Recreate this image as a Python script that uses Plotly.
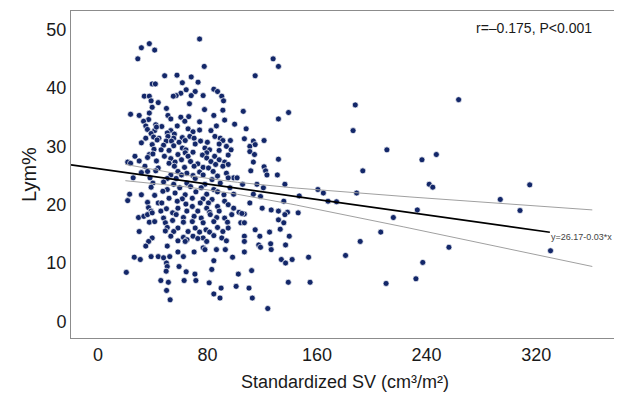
import plotly.graph_objects as go
import numpy as np

# Scatter data (Standardized SV, Lym%)
sv = [74.2,37.5,31.7,41.4,29.1,127.9,131.8,77.6,48.7,57.7,114.8,68.1,61.6,73.1,39.6,41.9,64.4,71.0,84.6,87.3,
      60.5,57.1,55.0,68.1,76.8,90.4,33.8,37.5,38.8,44.0,91.7,66.8,39.6,50.0,77.8,91.2,106.1,139.2,23.8,30.1,
      37.5,51.1,60.5,53.2,66.3,84.6,131.8,37.0,92.5,33.3,63.4,74.2,34.9,42.2,46.6,57.9,86.5,99.8,108.2,36.1,
      41.4,42.7,53.2,65.8,74.2,82.5,38.8,50.6,55.8,69.4,186.3,34.9,40.6,44.5,51.1,55.3,61.6,67.1,85.4,89.3,
      106.9,121.3,113.5,31.7,43.2,49.8,53.7,59.2,63.7,70.2,74.9,79.9,91.2,96.7,39.6,47.9,55.3,61.6,71.0,78.1,
      88.5,93.8,110.9,114.8,211.0,40.9,46.1,51.9,64.2,81.5,88.5,97.2,110.9,63.7,69.4,79.4,37.5,40.1,48.5,58.4,
      65.8,76.3,85.2,95.1,114.3,247.1,27.0,36.2,53.2,61.0,79.4,88.5,131.8,236.6,21.7,23.8,30.1,42.7,51.9,56.3,
      67.6,72.9,82.5,85.9,92.5,95.1,113.5,34.3,44.0,55.8,63.2,70.2,76.8,80.7,91.2,121.3,36.2,42.2,58.4,64.9,
      74.2,84.1,93.8,111.6,122.4,193.4,31.7,53.2,61.0,69.4,76.8,87.3,99.1,123.4,131.0,25.7,38.0,50.6,57.1,71.0,
      83.3,95.1,101.6,40.1,47.9,55.3,64.9,78.1,89.3,105.6,116.1,136.5,241.9,244.5,315.3,38.8,50.6,59.7,67.6,75.4,
      84.6,96.4,120.8,160.6,164.6,188.9,23.1,31.7,41.4,47.4,56.3,63.7,71.5,79.4,87.3,92.0,99.1,113.5,118.7,147.0,
      51.9,61.6,68.9,76.8,83.3,21.7,293.8,168.0,174.2,135.7,36.2,44.0,46.6,57.9,64.2,74.7,80.7,92.5,110.9,36.9,
      50.0,58.4,68.9,79.4,87.3,95.1,99.1,119.9,126.5,38.8,45.9,54.5,64.9,72.9,81.5,88.5,103.0,106.9,131.8,138.4,
      146.2,233.2,308.2,29.6,33.5,36.2,39.6,47.9,57.1,62.4,70.2,75.4,82.0,86.7,92.5,97.7,105.1,136.5,215.7,37.5,
      41.4,49.2,54.5,62.4,68.9,76.8,84.6,94.6,104.3,106.9,131.8,135.7,50.6,58.4,71.0,78.9,87.3,95.1,114.8,133.1,
      30.1,49.2,55.3,65.8,74.2,81.5,91.2,125.3,206.5,53.2,62.4,69.4,76.8,84.6,90.4,106.9,118.2,139.7,39.6,65.0,
      72.9,37.0,58.4,63.7,79.4,93.8,191.5,106.9,126.1,117.4,137.0,34.9,50.6,76.8,78.1,86.5,93.0,118.7,256.3,330.5,
      58.4,70.2,106.9,126.5,26.5,30.9,38.8,44.0,47.9,52.4,62.4,98.3,153.8,180.8,133.9,137.0,141.8,84.6,237.2,50.0,
      50.6,59.2,49.8,20.7,83.1,112.2,102.5,64.4,70.8,45.9,51.4,62.9,71.5,81.2,139.0,154.9,210.4,232.2,89.9,100.9,
      110.3,50.1,84.6,89.1,112.7,52.7,124.0,263.4,187.9]
lym = [48.4,47.6,46.9,46.5,45.0,45.0,43.7,43.7,42.1,42.2,42.1,41.9,40.9,41.0,40.7,40.7,39.7,39.4,39.8,39.4,
       39.1,38.7,38.6,38.7,38.7,38.6,38.6,38.6,37.8,37.5,37.8,37.3,36.7,36.5,36.3,36.2,36.0,35.8,35.5,35.3,
       35.7,35.3,35.0,34.7,35.1,35.3,34.7,34.6,34.5,34.3,34.3,34.2,33.5,33.7,33.4,33.5,33.5,33.8,33.0,32.9,
       32.7,33.3,32.7,33.0,32.8,32.7,32.2,32.3,32.1,32.5,32.7,31.4,31.6,31.4,31.7,31.4,31.5,31.7,31.7,31.4,
       31.3,31.0,30.9,30.6,31.1,30.9,30.9,30.7,31.0,31.4,30.9,30.7,31.0,31.0,30.3,30.2,30.1,29.7,30.4,29.7,
       30.4,30.0,30.0,30.3,29.4,29.5,29.4,29.3,29.4,29.4,29.3,29.4,29.1,28.9,29.0,28.9,28.6,28.7,28.3,28.6,
       28.3,28.5,28.3,28.5,28.6,28.6,28.3,28.1,27.9,27.7,28.0,27.7,27.8,27.7,27.3,27.1,27.5,27.5,27.1,27.3,
       27.4,27.0,27.4,26.9,27.3,26.9,27.3,26.6,26.3,26.6,26.4,26.6,26.4,26.3,26.6,26.5,25.7,25.8,25.7,25.4,
       25.6,25.7,25.4,25.8,25.8,25.8,25.5,25.1,25.1,25.0,25.1,24.9,24.6,25.1,25.1,24.6,24.6,24.5,24.5,24.5,
       24.3,24.6,24.6,23.7,23.9,23.5,23.7,23.5,23.7,23.5,23.5,23.5,23.5,23.0,23.4,23.0,22.6,22.9,23.1,22.9,
       22.6,22.9,22.9,22.6,22.0,22.0,21.8,21.7,21.6,22.3,22.0,21.7,22.2,21.8,22.2,21.7,21.8,21.8,21.4,21.5,
       21.1,21.0,21.1,21.0,20.9,20.7,20.9,20.6,20.5,20.6,20.4,20.3,20.3,20.6,20.1,20.3,20.3,20.6,20.3,19.5,
       19.3,19.4,19.7,19.4,19.7,20.0,19.4,19.4,19.1,18.9,18.9,18.6,18.9,18.9,18.7,18.9,18.7,18.4,18.9,18.7,
       18.6,19.1,19.0,17.8,18.0,18.3,18.6,17.7,18.3,17.8,18.0,17.7,18.3,17.8,17.7,18.3,18.5,18.3,17.8,17.0,
       17.1,16.9,17.3,17.0,17.1,16.9,17.1,17.0,16.9,16.9,17.4,16.9,16.1,16.0,16.0,15.7,16.1,16.0,15.7,15.8,
       15.4,15.5,15.4,15.4,15.3,15.3,15.4,15.3,15.3,14.6,14.4,14.6,14.3,14.7,14.3,14.6,14.6,14.6,14.3,14.0,
       14.2,13.7,13.8,13.7,13.7,13.8,13.7,13.7,13.3,13.1,13.1,12.9,12.9,12.6,12.3,12.3,12.3,12.7,12.7,12.1,
       11.9,11.9,11.9,12.3,11.0,10.6,11.1,11.1,10.9,11.1,11.1,11.0,11.0,11.3,10.6,10.0,10.6,10.4,10.1,10.0,
       9.4,9.4,8.6,8.4,8.9,8.7,8.1,8.5,8.1,7.0,6.7,7.0,7.0,6.6,6.7,6.7,6.5,7.3,5.7,6.0,
       5.7,5.3,4.7,4.0,4.0,3.7,2.2,38.0,37.1]

# Regression summary shown on the chart
intercept = 26.17
slope = -0.033
ci_center = 80.0
ci_h0 = 0.96
ci_k = 2.86e-4

x_ticks = [0, 80, 160, 240, 320]
y_ticks = [0, 10, 20, 30, 40, 50]

FONT = "Liberation Sans, Arial, Helvetica, sans-serif"

fig = go.Figure()
fig.add_trace(go.Scatter(
    x=sv, y=lym, mode="markers",
    marker=dict(size=6, color="#132769", line=dict(color="white", width=0.7)),
    showlegend=False, hoverinfo="skip"))

xl = np.linspace(-19.7, 330, 50)
fig.add_trace(go.Scatter(x=xl, y=intercept + slope * xl, mode="lines",
                         line=dict(color="black", width=1.6), showlegend=False))

xb = np.linspace(20, 361, 80)
half = np.sqrt(ci_h0 ** 2 + ci_k * (xb - ci_center) ** 2)
yb = intercept + slope * xb
fig.add_trace(go.Scatter(x=xb, y=yb + half, mode="lines",
                         line=dict(color="#a0a0a0", width=1), showlegend=False))
fig.add_trace(go.Scatter(x=xb, y=yb - half, mode="lines",
                         line=dict(color="#a0a0a0", width=1), showlegend=False))

fig.add_annotation(x=330, y=intercept + slope * 330, text="y=26.17-0.03*x", showarrow=False,
                   xanchor="left", yanchor="top", yshift=2, xshift=-1,
                   font=dict(size=9, color="#444444", family=FONT))
fig.add_annotation(x=(594 - 71) / (619 - 71), y=1 - (28 - 11) / (338 - 11),
                   xref="paper", yref="paper", text="r=\u20130.175, P<0.001",
                   showarrow=False, xanchor="right", yanchor="middle",
                   font=dict(size=14, color="#1a1a1a", family=FONT))

# the page body has an 8px margin, so the figure is sized/offset to compensate
fig.update_layout(
    width=614, height=385,
    margin=dict(l=63, r=3, t=3, b=55),
    paper_bgcolor="white", plot_bgcolor="white",
    font=dict(family=FONT, color="#1a1a1a"),
    xaxis=dict(range=[-19.7, 380.5], tickvals=x_ticks, ticktext=[str(v) for v in x_ticks],
               showgrid=False, zeroline=False, showline=True, mirror=True,
               linecolor="#8c8c8c", linewidth=1, ticks="", tickfont=dict(size=18),
               title=dict(text="Standardized SV (cm\u00b3/m\u00b2)", font=dict(size=18), standoff=11)),
    yaxis=dict(range=[-2.85, 53.2], tickvals=y_ticks, ticktext=[str(v) for v in y_ticks],
               showgrid=False, zeroline=False, showline=True, mirror=True,
               linecolor="#8c8c8c", linewidth=1, ticks="", tickfont=dict(size=18),
               title=dict(text="Lym%", font=dict(size=20), standoff=4)),
)

fig.write_html("out.html")
